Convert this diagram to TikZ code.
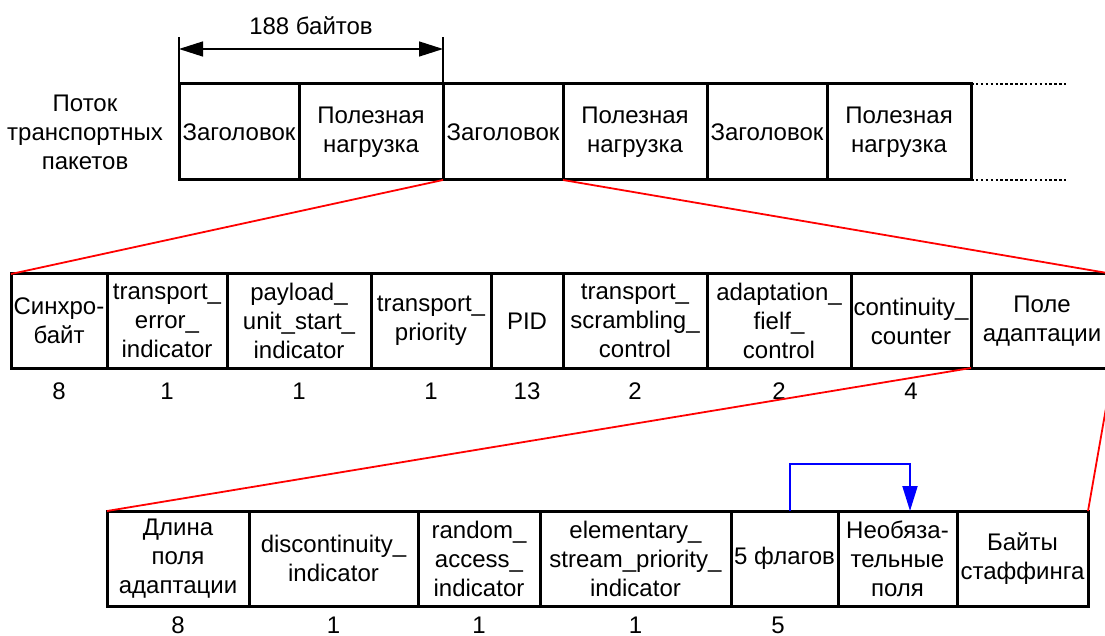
\documentclass[tikz,border=0pt]{standalone}
\usepackage{fontspec}
\setmainfont{Liberation Sans}
\usetikzlibrary{arrows.meta}
\newcommand\fsz{\fontsize{24}{29}\selectfont}
\begin{document}
\begin{tikzpicture}[x=1pt,y=-1pt,
  fld/.style={draw, line width=3pt, rectangle, inner sep=0pt, outer sep=0pt, align=center, font=\fsz},
  lbl/.style={inner sep=0pt, outer sep=0pt, align=center, font=\fsz},
  num/.style={inner sep=0pt, anchor=base, font=\fsz},
  redl/.style={draw=red, line width=1.8pt},
  bluel/.style={draw=blue, line width=2pt},
  dim/.style={line width=1.4pt},
  dotl/.style={line width=2pt, dash pattern=on 2.5pt off 2.4pt}]
\useasboundingbox (0,0) rectangle (1105,636);

% row 1: transport stream
\node[lbl] (lab) at (85,132) {Поток\\транспортных\\пакетов};
\node[fld, minimum width=120, minimum height=96] (r1a) at (239,132) {Заголовок};
\node[fld, minimum width=144, minimum height=96] (r1b) at (371,132) {Полезная\\нагрузка};
\node[fld, minimum width=120, minimum height=96] (r1c) at (503,132) {Заголовок};
\node[fld, minimum width=144, minimum height=96] (r1d) at (635,132) {Полезная\\нагрузка};
\node[fld, minimum width=120, minimum height=96] (r1e) at (767,132) {Заголовок};
\node[fld, minimum width=144, minimum height=96] (r1f) at (899,132) {Полезная\\нагрузка};
\coordinate (dt) at (1066,84);
\coordinate (db) at (1066,180);
\draw[dotl] (r1f.north east) -- (dt);
\draw[dotl] (r1f.south east) -- (db);

% dimension
\coordinate (tl) at (179,37);
\coordinate (tr) at (443,37);
\coordinate (al) at (179,49);
\coordinate (ar) at (443,49);
\draw[dim] (r1a.north west) -- (tl);
\draw[dim] (r1b.north east) -- (tr);
\draw[dim, {Triangle[length=24pt,width=15pt]}-{Triangle[length=24pt,width=15pt]}] (al) -- (ar);
\node[num] (bytes) at (311,35) {188 байтов};

% row 2: header
\node[fld, minimum width=96,  minimum height=94] (s1) at (59,321)  {Синхро-\\байт};
\node[fld, minimum width=120, minimum height=94] (s2) at (167,321) {transport\_\\error\_\\indicator};
\node[fld, minimum width=144, minimum height=94] (s3) at (299,321) {payload\_\\unit\_start\_\\indicator};
\node[fld, minimum width=120, minimum height=94] (s4) at (431,321) {transport\_\\priority};
\node[fld, minimum width=72,  minimum height=94] (s5) at (527,321) {PID};
\node[fld, minimum width=144, minimum height=94] (s6) at (635,321) {transport\_\\scrambling\_\\control};
\node[fld, minimum width=144, minimum height=94] (s7) at (779,321) {adaptation\_\\fielf\_\\control};
\node[fld, minimum width=120, minimum height=94] (s8) at (911,321) {continuity\_\\counter};
\node[fld, minimum width=142, minimum height=94] (s9) at (1042,321) {Поле\\адаптации};

\node[num] (n1) at (59,399) {8};
\node[num] (n2) at (167,399) {1};
\node[num] (n3) at (299,399) {1};
\node[num] (n4) at (431,399) {1};
\node[num] (n5) at (527,399) {13};
\node[num] (n6) at (635,399) {2};
\node[num] (n7) at (779,399) {2};
\node[num] (n8) at (911,399) {4};

% row 3: adaptation field
\node[fld, minimum width=142, minimum height=95] (t1) at (178,558.5)   {Длина\\поля\\адаптации};
\node[fld, minimum width=169, minimum height=95] (t2) at (333.5,558.5) {discontinuity\_\\indicator};
\node[fld, minimum width=122, minimum height=95] (t3) at (479,558.5)   {random\_\\access\_\\indicator};
\node[fld, minimum width=191, minimum height=95] (t4) at (635.5,558.5) {elementary\_\\stream\_priority\_\\indicator};
\node[fld, minimum width=107, minimum height=95] (t5) at (784.5,558.5) {5 флагов};
\node[fld, minimum width=119, minimum height=95] (t6) at (897.5,558.5) {Необяза-\\тельные\\поля};
\node[fld, minimum width=131, minimum height=95] (t7) at (1022.5,558.5) {Байты\\стаффинга};

\node[num] (m1) at (178,633) {8};
\node[num] (m2) at (333.5,633) {1};
\node[num] (m3) at (479,633) {1};
\node[num] (m4) at (635.5,633) {1};
\node[num] (m5) at (778,633) {5};

% red expansion lines
\draw[redl] (r1b.south east) -- (s1.north west);
\draw[redl] (r1d.south west) -- (s9.north east);
\draw[redl] (s8.south east) -- (t1.north west);
\draw[redl] (s9.south east) -- (t7.north east);

% blue flag arrow
\draw[bluel, -{Triangle[length=25pt,width=15pt]}] ([xshift=5pt]t5.north) -- ++(0,-47) -| ([xshift=12.5pt]t6.north);
\end{tikzpicture}
\end{document}
